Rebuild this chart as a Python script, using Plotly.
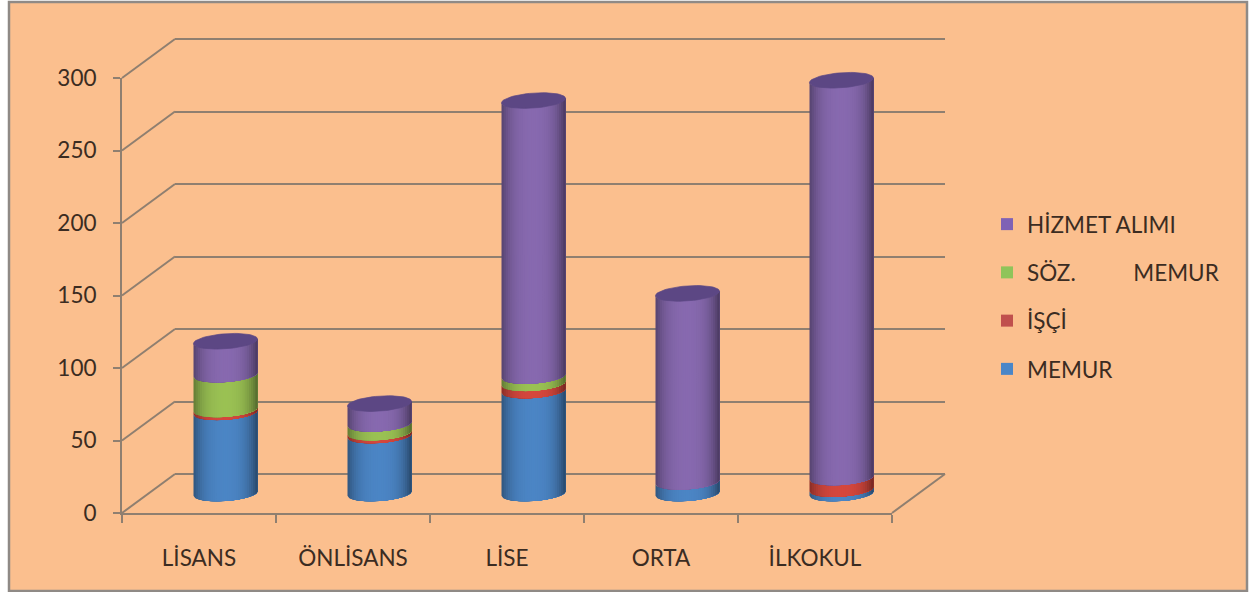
import numpy as np
import plotly.graph_objects as go

CATEGORIES = ["LİSANS", "ÖNLİSANS", "LİSE", "ORTA", "İLKOKUL"]
MEMUR = [56, 40, 71, 8, 3]
ISCI = [2, 2, 5, 0, 8]
SOZ = [24, 6, 5, 0, 0]
HIZMET = [23, 14, 190, 130, 274]
SERIES = [("MEMUR", MEMUR), ("İŞÇİ", ISCI), ("SÖZ.\u00a0\u00a0\u00a0\u00a0\u00a0\u00a0\u00a0\u00a0\u00a0\u00a0MEMUR", SOZ), ("HİZMET ALIMI", HIZMET)]
COLORS = [(76, 134, 198), (214, 72, 62), (155, 194, 84), (136, 106, 176)]
LEGEND_COLORS = ["#4a86c8", "#c0504d", "#8fc45a", "#7f62b5"]
CAP_COLOR = "#5c4784"

W, H = 1254, 592
FONT = "Lato"
TXT = "#3b2c22"
LINE = "#8f7f70"
PEACH = "#fbbf8e"
PX_PER_UNIT = 435 / 300
SLOT = 154
PAD = 20  # value units of head-room around 0..300 on the hidden axes


def fx(p):
    return p / W


def fy(p):
    return 1 - p / H


def dom_x(left):
    return [fx(left), fx(left + 5 * SLOT)]


def dom_y(bottom, pad=0):
    return [fy(bottom + pad * PX_PER_UNIT), fy(bottom - (300 + pad) * PX_PER_UNIT)]


FRONT = (122, 513)
DEPTH = (53, -39)
MID = (FRONT[0] + DEPTH[0] / 2, FRONT[1] + DEPTH[1] / 2)
BACK = (FRONT[0] + DEPTH[0], FRONT[1] + DEPTH[1])

A = 32 / SLOT
B = 7.5 / PX_PER_UNIT
TILT = (4.5 / 64 * SLOT) / PX_PER_UNIT
N = 30
edges = np.linspace(-1, 1, N + 1)


def arc(t, level, sign=-1):
    return level + TILT * A * t + sign * B * np.sqrt(np.clip(1 - t * t, 0, 1))


def shade(rgb, t):
    dark = (0.42 if t > 0 else 0.32) * abs(t) ** 3.2 + 0.05 * abs(t)
    return "rgb(%d,%d,%d)" % tuple(int(c * (1 - dark)) for c in rgb)


fig = go.Figure()

fig.add_trace(go.Scatter(x=CATEGORIES, y=[None] * 5, xaxis="x", yaxis="y", showlegend=False, hoverinfo="skip"))
fig.add_trace(go.Scatter(x=[0], y=[None], xaxis="x2", yaxis="y2", showlegend=False, hoverinfo="skip"))

positions = list(range(len(CATEGORIES)))
for rank, ((name, vals), lc) in enumerate(zip(SERIES, LEGEND_COLORS)):
    fig.add_trace(go.Bar(x=positions, y=vals, name=name, width=2 * A * 0.95, marker=dict(color=lc, line_width=0),
                         xaxis="x3", yaxis="y3", legendgroup=name, legendrank=100 - rank))

cum = np.zeros(5)
for (name, vals), col in zip(SERIES, COLORS):
    vals = np.array(vals, float)
    for k in range(N):
        # each strip runs to the right edge; the next strip paints over it, so no seams show
        tt = np.linspace(edges[k], 1, 40)
        xs, ys = [], []
        for i in positions:
            if vals[i] <= 0:
                continue
            lo = arc(tt, cum[i])
            hi = arc(tt[::-1], cum[i] + vals[i])
            xs += list(i + A * tt) + list(i + A * tt[::-1]) + [None]
            ys += list(lo) + list(hi) + [None]
        tm = 0.5 * (edges[k] + edges[k + 1])
        c = shade(col, tm)
        fig.add_trace(go.Scatter(x=xs, y=ys, mode="lines", fill="toself", fillcolor=c, line=dict(color=c, width=0),
                                 xaxis="x3", yaxis="y3", showlegend=False, hoverinfo="skip"))
    cum = cum + vals

xs, ys = [], []
th = np.linspace(0, 2 * np.pi, 60)
for i in positions:
    xs += list(i + A * np.cos(th)) + [None]
    ys += list(cum[i] + TILT * A * np.cos(th) + B * np.sin(th)) + [None]
fig.add_trace(go.Scatter(x=xs, y=ys, mode="lines", fill="toself", fillcolor=CAP_COLOR, line=dict(color=CAP_COLOR, width=0.7),
                         xaxis="x3", yaxis="y3", showlegend=False, hoverinfo="skip"))

shapes = [dict(type="rect", xref="paper", yref="paper", x0=fx(9), x1=fx(1247), y0=fy(591), y1=fy(2),
               fillcolor=PEACH, line=dict(color="#8f8a86", width=2.5), layer="below")]
for v in range(0, 301, 50):
    py = FRONT[1] - v * PX_PER_UNIT
    shapes.append(dict(type="line", xref="paper", yref="paper", x0=fx(FRONT[0]), y0=fy(py),
                       x1=fx(BACK[0]), y1=fy(py + DEPTH[1]), line=dict(color=LINE, width=2), layer="below"))
shapes.append(dict(type="line", xref="paper", yref="paper", x0=fx(FRONT[0] + 5 * SLOT), y0=fy(FRONT[1]),
                   x1=fx(BACK[0] + 5 * SLOT), y1=fy(BACK[1]), line=dict(color=LINE, width=2), layer="below"))

fig.update_layout(
    width=W, height=H, autosize=False, margin=dict(l=0, r=0, t=0, b=0),
    paper_bgcolor="white", plot_bgcolor="rgba(0,0,0,0)", barmode="stack", bargap=0,
    font=dict(family=FONT, color=TXT, size=22.5), shapes=shapes,
    xaxis=dict(type="category", domain=dom_x(FRONT[0]), range=[-0.5, 4.5], anchor="y", tickson="boundaries", automargin=False,
               ticks="outside", ticklen=8, tickwidth=2, tickcolor=LINE, showline=True, linecolor=LINE, linewidth=2,
               showgrid=False, ticklabelstandoff=24, tickfont=dict(size=22.5), fixedrange=True),
    yaxis=dict(domain=dom_y(FRONT[1]), range=[0, 300], anchor="x", tickvals=list(range(0, 301, 50)), automargin=False,
               ticks="outside", ticklen=7, tickwidth=2, tickcolor=LINE, showline=True, linecolor=LINE, linewidth=2,
               showgrid=False, zeroline=False, ticklabelstandoff=12, tickfont=dict(size=22.5), fixedrange=True),
    xaxis2=dict(domain=dom_x(BACK[0]), range=[-0.5, 4.5], anchor="y2", visible=False, fixedrange=True, automargin=False),
    yaxis2=dict(domain=dom_y(BACK[1], PAD), range=[-PAD, 300 + PAD], anchor="x2", tickvals=list(range(0, 301, 50)), automargin=False,
                showticklabels=False, ticks="", showline=False, showgrid=True, gridcolor=LINE, gridwidth=2,
                zeroline=False, fixedrange=True),
    xaxis3=dict(domain=dom_x(MID[0]), range=[-0.5, 4.5], anchor="y3", visible=False, fixedrange=True, automargin=False),
    yaxis3=dict(domain=dom_y(MID[1], PAD), range=[-PAD, 300 + PAD], anchor="x3", visible=False, fixedrange=True, automargin=False),
    legend=dict(x=fx(987), y=fy(296.5), xanchor="left", yanchor="middle", bgcolor="rgba(0,0,0,0)",
                traceorder="grouped", tracegroupgap=16, font=dict(size=22.5), itemclick=False, itemdoubleclick=False),
)
fig.write_html("out.html", config=dict(displayModeBar=False),
               post_script="document.body.style.margin='0';document.documentElement.style.overflow='hidden';")
